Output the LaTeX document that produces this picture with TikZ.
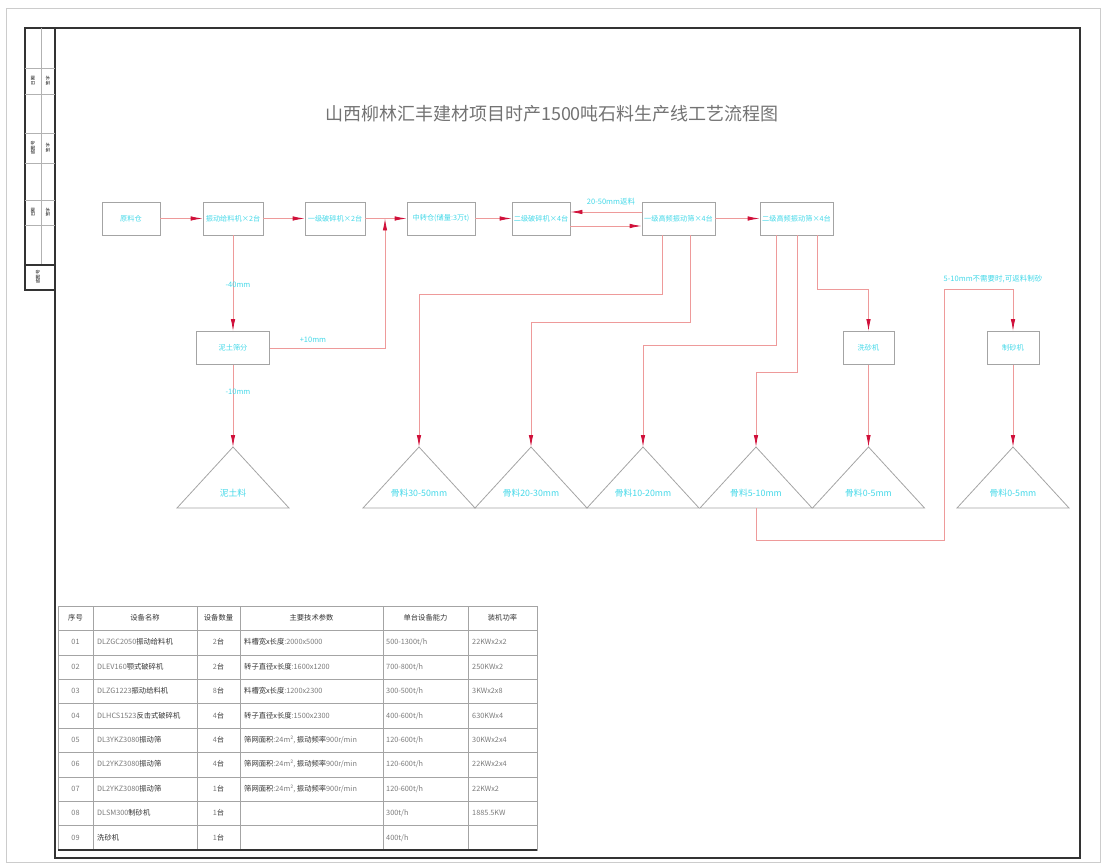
\documentclass[tikz,border=0pt]{standalone}
\usepackage{fontspec}
\setmainfont{Noto Sans CJK SC}
\usetikzlibrary{arrows.meta,calc}
\definecolor{boxgray}{HTML}{A4A4A4}
\definecolor{flowred}{HTML}{EE9A9A}
\definecolor{tipred}{HTML}{D0103A}
\definecolor{labcyan}{HTML}{44D8E8}
\definecolor{txtgray}{HTML}{7A7A7A}
\newcommand{\hz}[1]{{\color{black!80}#1}}
% one line of the equipment table
\newcommand{\tabrow}[8]{%
  \node[cell] (no#1) at (75.5,#2) {#3};
  \node[cell,anchor=west] (nm#1) at (97,#2) {#4};
  \node[cell] (qt#1) at (218.5,#2) {#5};
  \node[cell,anchor=west] (pa#1) at (244,#2) {#6};
  \node[cell,anchor=west] (ca#1) at (386,#2) {#7};
  \node[cell,anchor=west] (pw#1) at (472,#2) {#8};}

\begin{document}
\begin{tikzpicture}[x=1pt,y=-1pt,
    box/.style={draw=boxgray,line width=0.8pt,minimum height=33pt,inner sep=0pt,
      font=\fontsize{7.2}{8}\selectfont,text=labcyan},
    flow/.style={draw=flowred,line width=0.8pt,-{Latex[length=12pt,width=4.5pt,color=tipred]}},
    cyanlab/.style={text=labcyan,font=\fontsize{7.5}{8}\selectfont,inner sep=0pt},
    heaplab/.style={text=labcyan,font=\fontsize{8.8}{9}\selectfont,inner sep=0pt},
    heap/.style={draw=boxgray,line width=0.8pt},
    frame/.style={draw=black!80,line width=1.1pt},
    hair/.style={draw=black!30,line width=0.5pt},
    grid/.style={draw=boxgray,line width=0.6pt},
    cell/.style={font=\fontsize{7.3}{8}\selectfont,text=txtgray,inner sep=0pt,
      text height=6pt,text depth=1.5pt},
    strip/.style={font=\fontsize{4.5}{5}\selectfont,rotate=90,inner sep=0pt}]
  \useasboundingbox (0,0) rectangle (1107,866);
  % sheet and frame
  \draw[draw=black!20,line width=0.8pt] (6,8) rectangle (1100,862);
  \draw[frame] (55,28) rectangle (1080,858);
  \draw[frame] (25,28) rectangle (55,290);
  \draw[hair] (41,28) -- (41,265);
  \foreach \y in {68,94,133,163,200,225} \draw[hair] (25,\y) -- (55,\y);
  \draw[frame] (25,265) -- (55,265);
  \node[strip] (s1) at (33,81) {日期};
  \node[strip] (s2) at (48,81) {签字};
  \node[strip] (s3) at (33,148) {底图号};
  \node[strip] (s4) at (48,148) {签字};
  \node[strip] (s5) at (33,212.5) {日期};
  \node[strip] (s6) at (48,212.5) {签字};
  \node[strip] (s7) at (38,277) {底图号};

  \node[font=\fontsize{18}{20}\selectfont,text=black!55] (title) at (552,114)
    {山西柳林汇丰建材项目时产1500吨石料生产线工艺流程图};

  % main line
  \node[box,minimum width=58pt] (b1) at (131,218.5) {原料仓};
  \node[box,minimum width=60pt] (b2) at (233,218.5) {振动给料机×2台};
  \node[box,minimum width=60pt] (b3) at (335,218.5) {一级破碎机×2台};
  \node[box,minimum width=68pt] (b4) at (441,218.5) {中转仓(储量:3万t)};
  \node[box,minimum width=58pt] (b5) at (541,218.5) {二级破碎机×4台};
  \node[box,minimum width=73pt] (b6) at (678.5,218.5) {一级高频振动筛×4台};
  \node[box,minimum width=73pt] (b7) at (796.5,218.5) {二级高频振动筛×4台};
  \node[box,minimum width=73pt] (b8) at (233,348) {泥土筛分};
  \node[box,minimum width=51pt] (b9) at (868.5,348) {洗砂机};
  \node[box,minimum width=52pt] (b10) at (1013,348) {制砂机};
  \coordinate (j) at (385,218.5);

  \draw[flow] (b1) -- (b2);
  \draw[flow] (b2) -- (b3);
  \draw[flow] (b3) -- (b4);
  \draw[flow] (b4) -- (b5);
  \draw[flow] ([yshift=-7.5pt]b5.east) -- ([yshift=-7.5pt]b6.west);
  \draw[flow] ([yshift=6.5pt]b6.west) -- ([yshift=6.5pt]b5.east);
  \node[cyanlab] (ret) at (611,202) {20-50mm返料};
  \draw[flow] (b6) -- (b7);

  \draw[flow] (b2) -- (b8);
  \node[cyanlab] (l1) at (238,285) {-40mm};
  \draw[flow] (b8.east) -| (j);
  \node[cyanlab] (l2) at (313,340) {+10mm};

  % stock piles
  \coordinate (t1) at (233,447);
  \coordinate (t2) at (419,447);
  \coordinate (t3) at (531,447);
  \coordinate (t4) at (643,447);
  \coordinate (t5) at (756,447);
  \coordinate (t6) at (868.5,447);
  \coordinate (t7) at (1013,447);
  \draw[heap] (t1) -- ++(56,61) -- ++(-112,0) -- cycle;
  \draw[heap] (t2) -- ++(56,61) -- ++(-112,0) -- cycle;
  \draw[heap] (t3) -- ++(56,61) -- ++(-112,0) -- cycle;
  \draw[heap] (t4) -- ++(56,61) -- ++(-112,0) -- cycle;
  \draw[heap] (t5) -- ++(56,61) -- ++(-112,0) -- cycle;
  \draw[heap] (t6) -- ++(56,61) -- ++(-112,0) -- cycle;
  \draw[heap] (t7) -- ++(56,61) -- ++(-112,0) -- cycle;
  \node[heaplab] (h1) at ($(t1)+(0,46)$) {泥土料};
  \node[heaplab] (h2) at ($(t2)+(0,46)$) {骨料30-50mm};
  \node[heaplab] (h3) at ($(t3)+(0,46)$) {骨料20-30mm};
  \node[heaplab] (h4) at ($(t4)+(0,46)$) {骨料10-20mm};
  \node[heaplab] (h5) at ($(t5)+(0,46)$) {骨料5-10mm};
  \node[heaplab] (h6) at ($(t6)+(0,46)$) {骨料0-5mm};
  \node[heaplab] (h7) at ($(t7)+(0,46)$) {骨料0-5mm};

  \draw[flow] (b8) -- (t1);
  \node[cyanlab] (l3) at (238,392) {-10mm};
  \draw[flow] ([xshift=-16.5pt]b6.south) -- ++(0,59) -| (t2);
  \draw[flow] ([xshift=11.5pt]b6.south) -- ++(0,87) -| (t3);
  \draw[flow] ([xshift=-20.5pt]b7.south) -- ++(0,110) -| (t4);
  \draw[flow] ([xshift=0.5pt]b7.south) -- ++(0,137) -| (t5);
  \draw[flow] ([xshift=20.5pt]b7.south) -- ++(0,54) -| (b9.north);
  \draw[flow] (b9) -- (t6);
  \coordinate (t5b) at (756,508);
  \coordinate (rt) at (944,289);
  \draw[flow] (t5b) -- ++(0,32) -| (rt) -| (b10.north);
  \node[cyanlab] (l4) at (993,279) {5-10mm不需要时,可返料制砂};
  \draw[flow] (b10) -- (t7);

  % equipment table
  \draw[grid] (58,606) rectangle (537,850);
  \foreach \y in {630.4,654.8,679.2,703.6,728,752.4,776.8,801.2,825.6}
    \draw[grid] (58,\y) -- (537,\y);
  \foreach \x in {93,197,240,383,468} \draw[grid] (\x,606) -- (\x,850);
  \draw[frame] (58,850) -- (537,850);
  \node[cell] (hd1) at (75.5,618.2) {\hz{序号}};
  \node[cell] (hd2) at (145,618.2) {\hz{设备名称}};
  \node[cell] (hd3) at (218.5,618.2) {\hz{设备数量}};
  \node[cell] (hd4) at (311.5,618.2) {\hz{主要技术参数}};
  \node[cell] (hd5) at (425.5,618.2) {\hz{单台设备能力}};
  \node[cell] (hd6) at (502.5,618.2) {\hz{装机功率}};
  \tabrow{a}{642.6}{01}{DLZGC2050\hz{振动给料机}}{2\hz{台}}{\hz{料槽宽x长度}:2000x5000}{500-1300t/h}{22KWx2x2}
  \tabrow{b}{667}{02}{DLEV160\hz{颚式破碎机}}{2\hz{台}}{\hz{转子直径x长度}:1600x1200}{700-800t/h}{250KWx2}
  \tabrow{c}{691.4}{03}{DLZG1223\hz{振动给料机}}{8\hz{台}}{\hz{料槽宽x长度}:1200x2300}{300-500t/h}{3KWx2x8}
  \tabrow{d}{715.8}{04}{DLHCS1523\hz{反击式破碎机}}{4\hz{台}}{\hz{转子直径x长度}:1500x2300}{400-600t/h}{630KWx4}
  \tabrow{e}{740.2}{05}{DL3YKZ3080\hz{振动筛}}{4\hz{台}}{\hz{筛网面积}:24m², \hz{振动频率}900r/min}{120-600t/h}{30KWx2x4}
  \tabrow{f}{764.6}{06}{DL2YKZ3080\hz{振动筛}}{4\hz{台}}{\hz{筛网面积}:24m², \hz{振动频率}900r/min}{120-600t/h}{22KWx2x4}
  \tabrow{g}{789}{07}{DL2YKZ3080\hz{振动筛}}{1\hz{台}}{\hz{筛网面积}:24m², \hz{振动频率}900r/min}{120-600t/h}{22KWx2}
  \tabrow{h}{813.4}{08}{DLSM300\hz{制砂机}}{1\hz{台}}{}{300t/h}{1885.5KW}
  \tabrow{i}{837.8}{09}{\hz{洗砂机}}{1\hz{台}}{}{400t/h}{}
\end{tikzpicture}
\end{document}
